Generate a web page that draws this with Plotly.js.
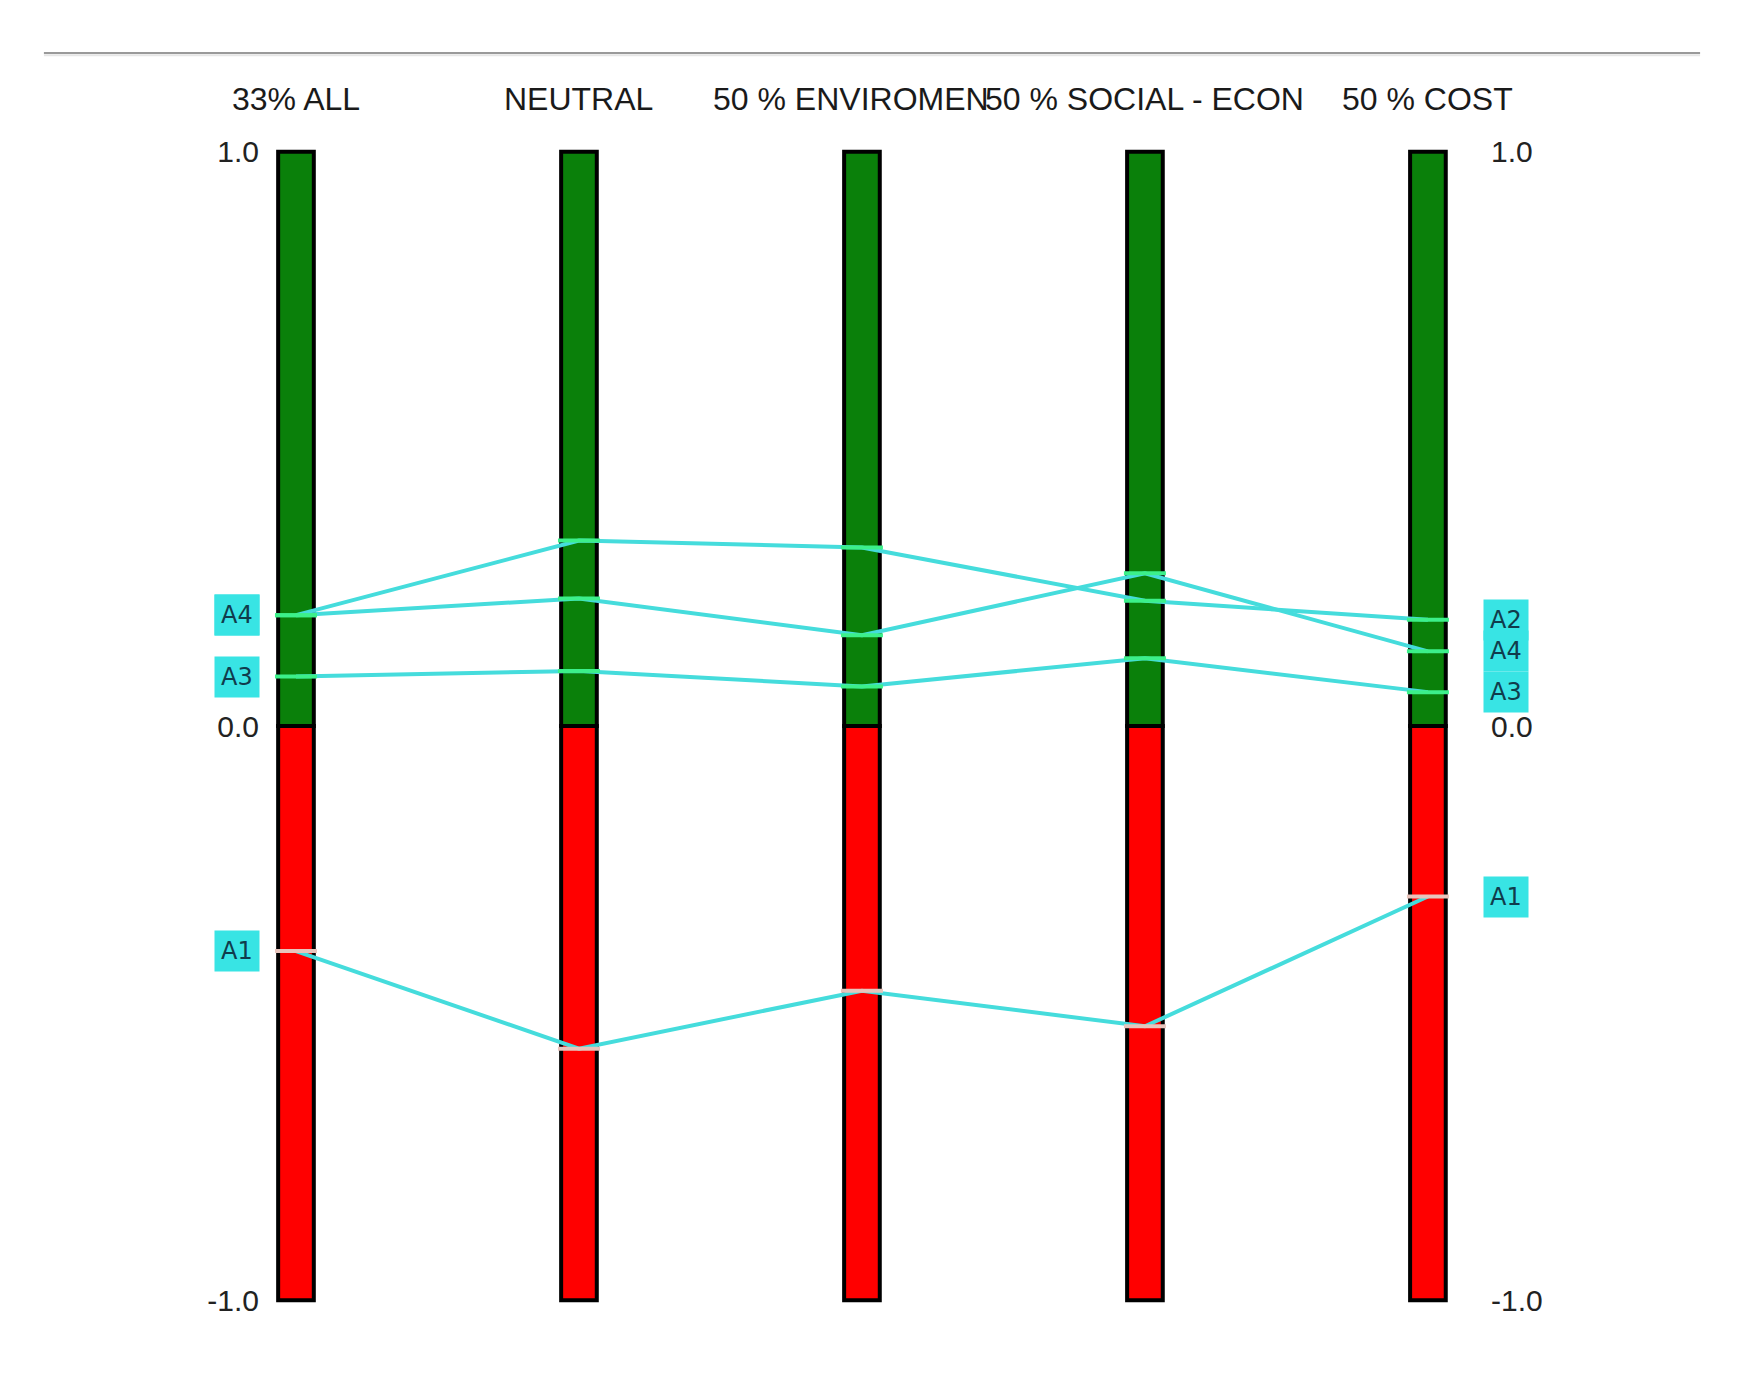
<!DOCTYPE html>
<html>
<head>
<meta charset="utf-8">
<script src="https://cdn.plot.ly/plotly-3.0.1.min.js"></script>
<style>
  html, body { margin: 0; padding: 0; background: #ffffff; }
  #chart { width: 1744px; height: 1400px; }
</style>
</head>
<body>
<div id="chart"></div>
<script>
// ---- Data ----
const criteria = ["33% ALL", "NEUTRAL", "50 % ENVIROMEN", "50 % SOCIAL - ECON", "50 % COST"];
const axisIndex = [0, 1, 2, 3, 4];
const upperBound = [1, 1, 1, 1, 1];
const lowerBound = [-1, -1, -1, -1, -1];
const A1 = [-0.392, -0.562, -0.461, -0.523, -0.297];
const A2 = [0.193, 0.323, 0.311, 0.218, 0.185];
const A3 = [0.086, 0.096, 0.069, 0.118, 0.059];
const A4 = [0.193, 0.222, 0.158, 0.266, 0.130];
const alternatives = ["A1", "A2", "A3", "A4"];
const altValues = [A1, A2, A3, A4];
const yTickVals = [1, 0, -1];
const yTickText = ["1.0", "0.0", "-1.0"];

// ---- Styles ----
const LINE = "#45dcdc";
const BOX = "#38e4e4";
const BOXTEXT = "#103c4c";
const FONT = "Liberation Sans, Arial, sans-serif";
const headerShift = [0, 0, -11, 0, 0];

const traces = [];
traces.push({
  type: "bar", x: axisIndex, y: upperBound, base: 0, width: 0.126,
  marker: { color: "#0a800a", line: { color: "#000000", width: 4 } },
  hoverinfo: "skip", showlegend: false
});
traces.push({
  type: "bar", x: axisIndex, y: lowerBound, base: 0, width: 0.126,
  marker: { color: "#ff0000", line: { color: "#000000", width: 4 } },
  hoverinfo: "skip", showlegend: false
});
altValues.forEach((vals, k) => {
  traces.push({
    type: "scatter", mode: "lines", x: axisIndex, y: vals,
    line: { color: LINE, width: 4 }, name: alternatives[k], showlegend: false
  });
});
altValues.forEach((vals, k) => {
  traces.push({
    type: "scatter", mode: "markers", x: axisIndex, y: vals,
    marker: {
      symbol: "line-ew-open", size: 30,
      color: vals.map(v => v >= 0 ? "#3cf08a" : "#e8c4bc"),
      line: { width: 4 }
    },
    hoverinfo: "skip", showlegend: false
  });
});
// invisible trace for right axis
traces.push({
  type: "scatter", mode: "markers", x: [0], y: [0], yaxis: "y2",
  marker: { opacity: 0 }, hoverinfo: "skip", showlegend: false
});

const annotations = [];
criteria.forEach((c, i) => {
  annotations.push({
    x: axisIndex[i], y: upperBound[i], xref: "x", yref: "y",
    text: c, showarrow: false, yshift: 53, xshift: headerShift[i],
    xanchor: "center", yanchor: "middle",
    font: { family: FONT, size: 32, color: "#1a1a1a" }
  });
});
function altLabel(name, val, idx, shift) {
  return {
    x: axisIndex[idx], y: val, xref: "x", yref: "y", text: name, showarrow: false,
    xshift: shift, xanchor: "center", yanchor: "middle",
    bgcolor: BOX, borderpad: 6,
    font: { family: "DejaVu Sans, sans-serif", size: 24, color: BOXTEXT }
  };
}
// left side labels (A2 hidden under A4)
["A1", "A2", "A3", "A4"].forEach(n => {
  const k = alternatives.indexOf(n);
  annotations.push(altLabel(n, altValues[k][0], 0, -59));
});
// right side labels
["A1", "A3", "A4", "A2"].forEach(n => {
  const k = alternatives.indexOf(n);
  annotations.push(altLabel(n, altValues[k][4], 4, 78));
});

const layout = {
  width: 1744, height: 1400,
  margin: { l: 264, r: 264, t: 149, b: 97 },
  paper_bgcolor: "#ffffff", plot_bgcolor: "#ffffff",
  barmode: "overlay",
  showlegend: false,
  xaxis: {
    range: [-0.113, 4.184], showgrid: false, zeroline: false,
    showticklabels: false, ticks: "", showline: false, fixedrange: true
  },
  yaxis: {
    range: [-1.005, 1.005], showgrid: false, zeroline: false, showline: false,
    tickvals: yTickVals, ticktext: yTickText, ticks: "", ticklabelstandoff: 4,
    tickfont: { family: FONT, size: 30, color: "#222222" }
  },
  yaxis2: {
    range: [-1.005, 1.005], overlaying: "y", side: "right",
    showgrid: false, zeroline: false, showline: false,
    tickvals: yTickVals, ticktext: yTickText, ticks: "", ticklabelstandoff: 10,
    tickfont: { family: FONT, size: 30, color: "#222222" }
  },
  annotations: annotations,
  shapes: [
    { type: "line", xref: "paper", yref: "paper", x0: -0.181, x1: 1.181, y0: 1.0832, y1: 1.0832,
      line: { color: "#9a9a9a", width: 2 } },
    { type: "line", xref: "paper", yref: "paper", x0: -0.181, x1: 1.181, y0: 1.0812, y1: 1.0812,
      line: { color: "#e6e6e6", width: 2 } }
  ]
};

Plotly.newPlot("chart", traces, layout, { displayModeBar: false, staticPlot: true });
</script>
</body>
</html>
